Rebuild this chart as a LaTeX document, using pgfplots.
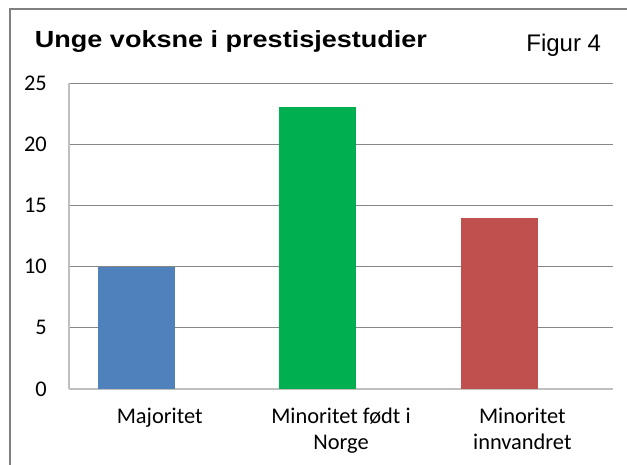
\documentclass[border=0pt]{standalone}
\usepackage{fontspec}
\setmainfont{Carlito}
\newfontfamily\arial{Liberation Sans}
\usepackage{graphicx}
\usepackage{pgfplots}
\pgfplotsset{compat=1.18}

\definecolor{barblue}{HTML}{4F81BD}
\definecolor{bargreen}{HTML}{00B050}
\definecolor{barred}{HTML}{C0504D}
\definecolor{gridgray}{HTML}{868686}
\definecolor{axisgray}{HTML}{BFBFBF}
\definecolor{framegray}{HTML}{808080}

\begin{document}
\begin{tikzpicture}
% page = 627 x 464 px, 1 px = 0.75pt
\useasboundingbox (0pt,0pt) rectangle (470.25pt,-348pt);
\draw[framegray, line width=1.2pt] (7.5pt,-360pt) -- (7.5pt,-6.75pt) -- (480pt,-6.75pt);
% title box is a little stretched sideways in the original
\node[anchor=base west, inner sep=0pt]
  at (26pt,-35.5pt) {\resizebox{294pt}{\height}{\arial\bfseries\fontsize{17.5pt}{21pt}\selectfont Unge voksne i prestisjestudier}};
\node[anchor=base east, inner sep=0pt, font=\arial\fontsize{18pt}{21pt}\selectfont]
  at (451pt,-38.6pt) {Figur 4};

\begin{axis}[
    at={(51.75pt,-291.75pt)}, anchor=south west,
    scale only axis, width=408pt, height=229.5pt,
    ybar, bar width=0.4245, bar shift=0pt,
    xmin=-0.5, xmax=2.5, ymin=0, ymax=25,
    xtick={0,1,2},
    xticklabels={Majoritet, Minoritet født i\\Norge, Minoritet\\innvandret},
    ytick={0,5,...,25},
    major tick length=0pt,
    axis x line*=bottom, axis y line*=left,
    axis line style={draw=axisgray, line width=0.9pt, -},
    ymajorgrids, grid style={gridgray, line width=0.75pt},
    /pgf/number format/assume math mode=true,
    xticklabel style={anchor=north, inner sep=0pt, yshift=-14pt, align=center,
        font=\fontsize{16.8pt}{19.3pt}\selectfont},
    yticklabel style={anchor=east, inner sep=0pt, xshift=-16.5pt,
        font=\fontsize{16.8pt}{19.3pt}\selectfont},
]
\addplot[fill=barblue, draw=none] coordinates {(-0.127,10)};
\addplot[fill=bargreen, draw=none] coordinates {(0.873,23)};
\addplot[fill=barred, draw=none] coordinates {(1.873,14)};
\end{axis}
\end{tikzpicture}
\end{document}
